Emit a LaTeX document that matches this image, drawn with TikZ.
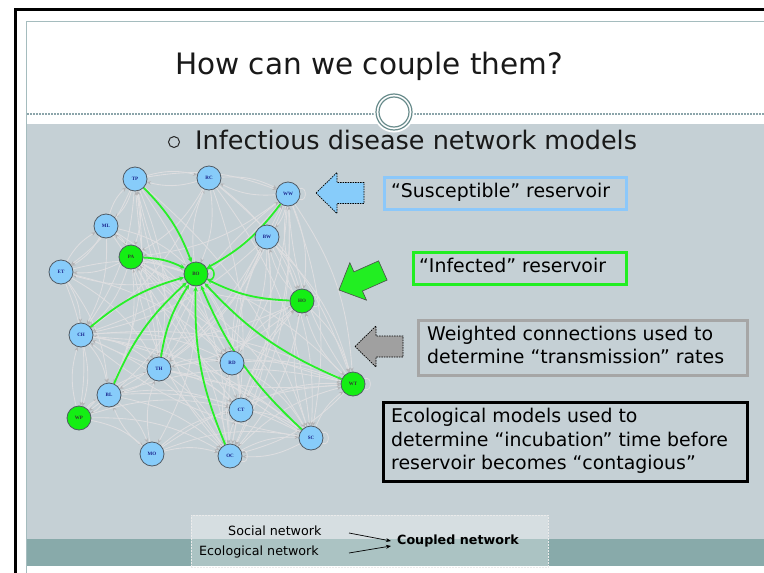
\documentclass[tikz,border=0pt]{standalone}
\usepackage{fontspec}
\setmainfont{DejaVu Sans}
\newfontfamily\lblfont{Liberation Serif}
\usetikzlibrary{arrows.meta,calc}
\pgfdeclarelayer{bg}
\pgfdeclarelayer{edges}
\pgfsetlayers{bg,edges,main}

\definecolor{slidegrey}{RGB}{197,208,213}
\definecolor{bandteal}{RGB}{136,170,170}
\definecolor{framegrey}{RGB}{165,188,190}
\definecolor{dashgrey}{RGB}{140,165,170}
\definecolor{ringteal}{RGB}{105,140,140}
\definecolor{nodeblue}{RGB}{135,204,250}
\definecolor{nodegreen}{RGB}{20,238,20}
\definecolor{edgegreen}{RGB}{40,240,40}
\definecolor{edgegrey}{RGB}{222,222,224}
\definecolor{tipgrey}{RGB}{180,180,182}
\definecolor{labelblue}{RGB}{25,35,140}
\definecolor{boxblue}{RGB}{140,200,250}
\definecolor{boxgreen}{RGB}{34,238,34}
\definecolor{boxgrey}{RGB}{166,166,166}
\definecolor{arrowgrey}{RGB}{160,160,160}
\definecolor{nodeline}{RGB}{80,90,100}

\tikzset{
  blockarr/.pic={\path[pic actions] (0,0) -- (21,-20.5) -- (21,-10.5) -- (48,-10.5)
     -- (48,10.5) -- (21,10.5) -- (21,20.5) -- cycle;}
}

\begin{document}
\begin{tikzpicture}[x=1pt,y=-1pt,
  susc/.style={circle,draw=nodeline,line width=0.8pt,fill=nodeblue,minimum size=24pt,
    inner sep=0pt,font=\lblfont\bfseries\fontsize{5}{5}\selectfont,text=labelblue},
  infc/.style={susc,fill=nodegreen,text=black!80},
  gedge/.style={draw=edgegrey,line width=0.85pt,-{Stealth[length=4pt,width=3.5pt,color=tipgrey]},bend left=15},
  gloop/.style={draw=edgegrey,line width=0.85pt},
  iedge/.style={draw=edgegreen,line width=1.8pt,-{Stealth[length=5pt,width=4.5pt]},bend left=12},
  infobox/.style={draw,line width=3pt,inner sep=0pt,anchor=north west},
  boxtext/.style={anchor=base west,inner sep=0pt,font=\fontsize{18.9}{23.5}\selectfont},
  legtext/.style={anchor=base west,inner sep=0pt,font=\fontsize{12.7}{14}\selectfont},
  legarrow/.style={draw=black,line width=0.7pt,-{Stealth[length=5pt,width=4pt]}}
]
\useasboundingbox (0,0) rectangle (764,573);
\clip (0,0) rectangle (764,573);

% ---------- slide background ----------
\begin{pgfonlayer}{bg}
  \fill[white] (0,0) rectangle (764,573);
  \fill[slidegrey] (26,124) rectangle (800,539);
  \fill[bandteal] (26,539) rectangle (800,566);
  \draw[framegrey,line width=1.5pt] (26.5,600) -- (26.5,21.5) -- (800,21.5);
  \draw[dashgrey,line width=1.2pt,dash pattern=on 2pt off 1pt] (27,114) -- (800,114);
  \draw[black,line width=3pt] (15.5,600) -- (15.5,9.5) -- (800,9.5);
  \fill[white] (394,112) circle (20.5);
  \draw[ringteal,line width=1.2pt] (394,112) circle (18);
  \draw[ringteal,line width=1.2pt] (394,112) circle (15);
\end{pgfonlayer}

% ---------- title ----------
\node[anchor=base west,inner sep=0pt,font=\fontsize{29.5}{34}\selectfont,text=black!90] (title)
  at (175,74) {How can we couple them?};
\node[circle,draw=black!85,line width=1pt,minimum size=11pt,inner sep=0pt] (bullet) at (174,142) {};
\node[anchor=base west,inner sep=0pt,font=\fontsize{25.5}{30}\selectfont,text=black!90] (subtitle)
  at (195,149) {Infectious disease network models};

% ---------- network nodes ----------
\node[susc] (TP) at (135,179) {TP};
\node[susc] (RC) at (209,178) {RC};
\node[susc] (WW) at (288,194) {WW};
\node[susc] (ML) at (106,226) {ML};
\node[susc] (BW) at (267,237) {BW};
\node[infc] (PA) at (131,257) {PA};
\node[susc] (ET) at (61,272) {ET};
\node[infc] (BO) at (196,274) {BO};
\node[infc] (HO) at (302,301) {HO};
\node[susc] (CH) at (81,335) {CH};
\node[susc] (TH) at (159,369) {TH};
\node[susc] (RD) at (232,363) {RD};
\node[infc] (WT) at (353,384) {WT};
\node[susc] (BL) at (109,395) {BL};
\node[infc] (WP) at (79,418) {WP};
\node[susc] (CT) at (241,410) {CT};
\node[susc] (SC) at (311,438) {SC};
\node[susc] (MO) at (152,454) {MO};
\node[susc] (OC) at (230,456) {OC};

% ---------- network edges ----------
\begin{pgfonlayer}{edges}
  \foreach \a/\b in {TP/RC,RC/TP,RC/WW,WW/RC,TP/ML,ML/ET,ET/CH,CH/WP,WP/MO,MO/OC,OC/SC,SC/WT,
    WT/HO,HO/WW,WW/BW,TP/PA,TP/ET,TP/CH,TP/TH,TP/BL,TP/WW,RC/BO,RC/HO,RC/WT,WW/HO,WW/WT,
    WW/SC,WW/OC,WW/CT,WW/RD,WW/TH,WW/PA,WW/CH,BW/HO,BW/WT,BW/SC,BW/OC,BW/CT,BW/RD,ML/PA,
    ML/BO,ML/CH,ML/TP,PA/ET,PA/CH,PA/BL,PA/TH,PA/OC,PA/WT,ET/BL,ET/BO,ET/WP,CH/BL,CH/TH,
    CH/OC,CH/WT,CH/RD,TH/OC,TH/CT,TH/RD,TH/WT,TH/SC,TH/BL,BL/WP,BL/OC,BL/MO,BL/CT,BL/WT,
    BL/SC,WP/OC,WP/BL,MO/SC,MO/CT,OC/CT,OC/WT,OC/HO,OC/RD,CT/SC,CT/WT,CT/HO,RD/WT,RD/HO,
    RD/SC,SC/HO,HO/WT,HO/TH,HO/CH,HO/PA,WT/PA,WT/CH,WT/OC,SC/PA,SC/CH,OC/TP,OC/PA,OC/WW,
    CT/TP,RD/TP,BO/TH,BO/RD,BO/CT,BO/MO,BO/WP,BO/ET,BO/ML,BO/RC,HO/OC,SC/OC,MO/BL,WP/CH,
    ET/ML,TH/WW,RD/BW,CT/BW,WT/WW,HO/BW,WP/TH,MO/TH,ET/TH,RC/PA,RC/CH,ML/TH,ML/RD,ET/RD,
    PA/RD,PA/CT,PA/SC,CH/CT,CH/SC,TP/OC,TP/SC,RC/OC,RC/SC,BW/TH,BW/CH,BW/BL,WP/CT,MO/WT}
    {\draw[gedge] (\a) to (\b);}
  \foreach \n in {WW,HO,WT,SC,OC}
    {\draw[gloop] (\n) to[out=25,in=-25,min distance=9pt] (\n);}
  \foreach \s in {TP,WW,PA,HO,CH,TH,BL,OC,SC,WT}
    {\draw[iedge] (\s) to (BO);}
  \draw[draw=edgegreen,line width=1.5pt] (BO) to[out=25,in=-25,min distance=10pt] (BO);
\end{pgfonlayer}

% ---------- block arrows ----------
\pic[draw=black,dash pattern=on 1.5pt off 1pt,line width=0.7pt,fill=nodeblue] at (316,193) {blockarr};
\pic[draw=black!70,line width=0.6pt,fill=boxgreen,rotate=24] at (339,290) {blockarr};
\pic[draw=black,dash pattern=on 1.5pt off 1pt,line width=0.7pt,fill=arrowgrey] at (355,346.5) {blockarr};

% ---------- info boxes ----------
\node[infobox,draw=boxblue,minimum width=242pt,minimum height=32pt] (b1) at (383,176) {};
\node[boxtext] (t1) at (391,197) {“Susceptible” reservoir};
\node[infobox,draw=boxgreen,minimum width=213pt,minimum height=32pt] (b2) at (412,251) {};
\node[boxtext] (t2) at (419,272) {“Infected” reservoir};
\node[infobox,draw=boxgrey,minimum width=329pt,minimum height=55pt] (b3) at (417,319) {};
\node[boxtext] (t3a) at (427,340) {Weighted connections used to};
\node[boxtext] (t3b) at (427,363) {determine “transmission” rates};
\node[infobox,draw=black,minimum width=364pt,minimum height=79pt] (b4) at (382,401) {};
\node[boxtext] (t4a) at (391,422) {Ecological models used to};
\node[boxtext] (t4b) at (391,446) {determine “incubation” time before};
\node[boxtext] (t4c) at (391,469) {reservoir becomes “contagious”};

% ---------- legend ----------
\node[draw=white!92!black,dashed,dash pattern=on 2pt off 1pt,line width=0.6pt,fill=white,fill opacity=0.3,
  anchor=north west,minimum width=357pt,minimum height=52pt,inner sep=0pt] (legend) at (191,515) {};
\node[legtext] (social) at (228,535) {Social network};
\node[legtext] (eco) at (199,555) {Ecological network};
\node[legtext,font=\fontsize{12.7}{14}\selectfont\bfseries] (coupled) at (397,544) {Coupled network};
\coordinate (sa) at (349,533);
\coordinate (ea) at (349,553);
\coordinate (ca) at (391,541);
\coordinate (cb) at (391,546);
\draw[legarrow] (sa) -- (ca);
\draw[legarrow] (ea) -- (cb);
\end{tikzpicture}
\end{document}
